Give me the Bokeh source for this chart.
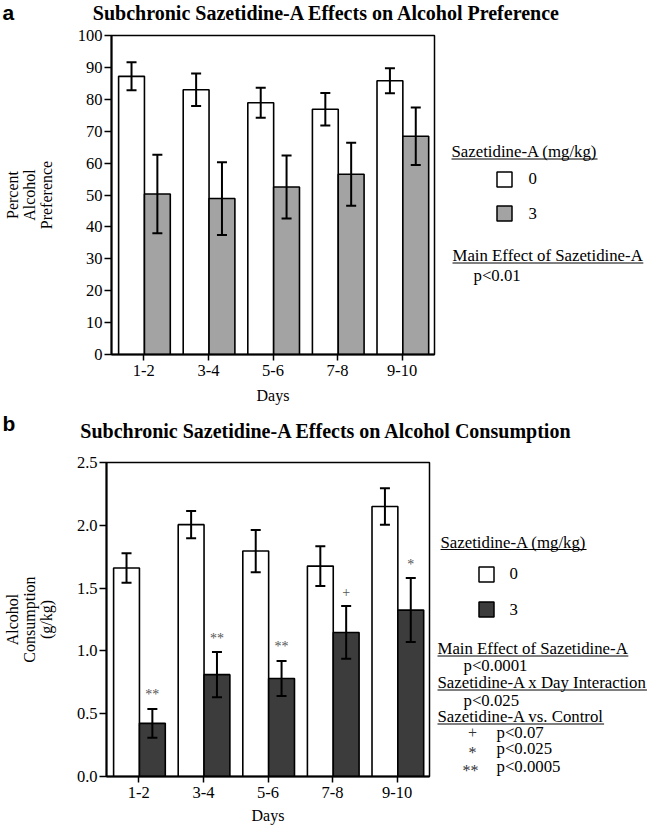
from bokeh.plotting import figure
from bokeh.models import (ColumnDataSource, FactorRange, Range1d, Whisker, TeeHead,
                          SingleIntervalTicker, NumeralTickFormatter)
from bokeh.transform import dodge
from bokeh.layouts import column, row
from bokeh.embed import file_html
from bokeh.resources import INLINE
from bokeh.core.properties import value

# ---------------- data ----------------
days = ["1-2", "3-4", "5-6", "7-8", "9-10"]
dose_labels = ["0", "3"]

pref_ctrl_mean = [87.2, 83.0, 78.9, 76.9, 85.8]
pref_ctrl_sem = [4.4, 5.1, 4.7, 5.1, 3.9]
pref_saz_mean = [50.3, 48.9, 52.5, 56.5, 68.4]
pref_saz_sem = [12.3, 11.4, 9.9, 9.9, 9.0]

cons_ctrl_mean = [1.66, 2.005, 1.795, 1.675, 2.15]
cons_ctrl_sem = [0.117, 0.108, 0.168, 0.159, 0.145]
cons_saz_mean = [0.423, 0.811, 0.78, 1.147, 1.325]
cons_saz_sem = [0.115, 0.18, 0.14, 0.21, 0.255]
cons_saz_sig = ["**", "**", "**", "+", "*"]

title_a = "Subchronic Sazetidine-A Effects on Alcohol Preference"
title_b = "Subchronic Sazetidine-A Effects on Alcohol Consumption"
ylabel_a = "Percent\nAlcohol\nPreference"
ylabel_b = "Alcohol\nConsumption\n(g/kg)"
xlabel = "Days"
legend_title = "Sazetidine-A (mg/kg)"
stats_a = [("Main Effect of Sazetidine-A", "p<0.01")]
stats_b = [("Main Effect of Sazetidine-A", "p<0.0001"),
           ("Sazetidine-A x Day Interaction", "p<0.025")]
vs_title = "Sazetidine-A vs. Control"
vs_marks = ["+", "*", "**"]
vs_p = ["p<0.07", "p<0.025", "p<0.0005"]

SERIF = "Liberation Serif"
WHITE = "#ffffff"
GRAY = "#a3a3a3"
DARK = "#3c3c3c"
OFF0, OFF1, BW = -0.19, 0.21, 0.4
PAGE_W = 649
LFS = "16.8px"   # legend font size
EM = 16.8


def make_panel(width, height, mb_left, mb_right, mb_top, mb_bottom, ymax, interval, fmt,
               ylabel, label_standoff, x_label_standoff,
               c_mean, c_sem, s_mean, s_sem, s_color, sig=None):
    p = figure(x_range=FactorRange(*days), y_range=Range1d(0, ymax),
               width=width, height=height, min_border_left=mb_left, min_border_right=mb_right,
               min_border_top=mb_top, min_border_bottom=mb_bottom,
               toolbar_location=None, output_backend="svg")
    p.grid.visible = False
    p.outline_line_color = "black"
    p.outline_line_width = 1.5

    src = ColumnDataSource(dict(
        day=days,
        c_mean=c_mean, c_up=[m + s for m, s in zip(c_mean, c_sem)], c_lo=[m - s for m, s in zip(c_mean, c_sem)],
        s_mean=s_mean, s_up=[m + s for m, s in zip(s_mean, s_sem)], s_lo=[m - s for m, s in zip(s_mean, s_sem)],
        sig=sig if sig is not None else [""] * len(days),
    ))
    p.vbar(x=dodge("day", OFF0, range=p.x_range), top="c_mean", width=BW, source=src,
           fill_color=WHITE, line_color="black", line_width=1.6)
    p.vbar(x=dodge("day", OFF1, range=p.x_range), top="s_mean", width=BW, source=src,
           fill_color=s_color, line_color="black", line_width=1.6)
    for off, up, lo in ((OFF0, "c_up", "c_lo"), (OFF1, "s_up", "s_lo")):
        w = Whisker(source=src, base=dodge("day", off, range=p.x_range), upper=up, lower=lo,
                    line_color="black", line_width=2, level="annotation",
                    upper_head=TeeHead(size=10, line_width=2, line_color="black"),
                    lower_head=TeeHead(size=10, line_width=2, line_color="black"))
        p.add_layout(w)
    if sig is not None:
        p.text(x=dodge("day", OFF1, range=p.x_range), y="s_up", text="sig", source=src,
               text_align="center", text_baseline="middle", y_offset=-14,
               text_font=value(SERIF), text_font_size="14px", text_color="#555555")

    for ax in (p.xaxis[0], p.yaxis[0]):
        ax.axis_line_width = 2
        ax.major_tick_line_width = 1.5
        ax.major_tick_in = 0
        ax.minor_tick_line_color = None
        ax.major_label_text_font = SERIF
        ax.major_label_text_font_size = "16.5px"
        ax.major_label_text_color = "black"
        ax.axis_label_text_font = SERIF
        ax.axis_label_text_font_size = "16px"
        ax.axis_label_text_font_style = "normal"
        ax.axis_label_text_color = "black"
    p.yaxis.major_tick_out = 7
    p.xaxis.major_tick_out = 6
    p.yaxis.ticker = SingleIntervalTicker(interval=interval, num_minor_ticks=0)
    if fmt:
        p.yaxis.formatter = NumeralTickFormatter(format=fmt)
    p.yaxis.axis_label = ylabel
    p.yaxis.axis_label_text_line_height = 1.0
    p.yaxis.axis_label_standoff = label_standoff
    p.yaxis.major_label_standoff = 2
    p.xaxis.axis_label = xlabel
    p.xaxis.major_label_standoff = 4
    p.xaxis.axis_label_standoff = x_label_standoff
    return p


def pixel_fig(x0, x1, y0, y1, height, mb_top=0, mb_bottom=0):
    """Figure whose data coordinates are page pixels (y downward)."""
    f = figure(width=x1 - x0, height=height, x_range=Range1d(x0, x1), y_range=Range1d(y1, y0),
               x_axis_type=None, y_axis_type=None, toolbar_location=None, output_backend="svg",
               min_border_left=0, min_border_right=0, min_border_top=mb_top,
               min_border_bottom=mb_bottom)
    f.grid.visible = False
    f.outline_line_color = None
    return f


def ltext(f, xs, ys, texts, size=LFS):
    f.text(x=xs, y=ys, text=texts, text_font=value(SERIF), text_font_size=size,
           text_align="left", text_baseline="middle", text_color="black")


def uline(f, x, y, em_width):
    f.segment(x0=[x], y0=[y], x1=[x + em_width * EM], y1=[y], line_color="black", line_width=1)


def header_strip(y0, y1, letter, title, letter_y, title_x, title_y):
    s = pixel_fig(0, PAGE_W, y0, y1, y1 - y0)
    s.text(x=[2], y=[letter_y], text=[letter], text_font=value("Liberation Sans"),
           text_font_style="bold", text_font_size="21px", text_align="left",
           text_baseline="top", text_color="black")
    s.text(x=[title_x], y=[title_y], text=[title], text_font=value(SERIF),
           text_font_style="bold", text_font_size="20px", text_align="center",
           text_baseline="middle", text_color="black")
    return s


# ---------------- panel a (page y 0..410) ----------------
strip_a = header_strip(0, 26, "a", title_a, 0, 326.5, 12)

# frame: x 105..434, y 35..354
pa = make_panel(444, 384, 105, 10, 9, 56, 100, 10, None, ylabel_a, 20, 8,
                pref_ctrl_mean, pref_ctrl_sem, pref_saz_mean, pref_saz_sem, GRAY)

la = pixel_fig(444, PAGE_W, 35, 354, 384, mb_top=9, mb_bottom=56)
ltext(la, [451], [151], [legend_title])
uline(la, 451, 158.5, 8.693)
la.rect(x=[504, 504], y=[179, 213], width=15, height=15, fill_color=[WHITE, GRAY],
        line_color="black", line_width=1.5)
ltext(la, [528, 528], [178, 213], dose_labels)
ltext(la, [452], [255], [stats_a[0][0]])
uline(la, 452, 262.5, 11.358)
ltext(la, [473], [275], [stats_a[0][1]])

# ---------------- panel b (page y 410..830) ----------------
strip_b = header_strip(410, 447, "b", title_b, 411, 326, 430)

# frame: x 104..429, y 462..776
pb = make_panel(433, 383, 104, 4, 15, 54, 2.5, 0.5, "0.0", ylabel_b, 19, 6,
                cons_ctrl_mean, cons_ctrl_sem, cons_saz_mean, cons_saz_sem, DARK,
                sig=cons_saz_sig)

lb = pixel_fig(433, PAGE_W, 462, 776, 383, mb_top=15, mb_bottom=54)
ltext(lb, [440], [541.5], [legend_title])
uline(lb, 440, 549, 8.693)
lb.rect(x=[486, 486], y=[574, 609], width=15, height=15, fill_color=[WHITE, DARK],
        line_color="black", line_width=1.5)
ltext(lb, [509, 509], [573, 609], dose_labels)
ltext(lb, [437, 463, 437, 463], [648, 665, 682, 700],
      [stats_b[0][0], stats_b[0][1], stats_b[1][0], stats_b[1][1]])
uline(lb, 437, 655.5, 11.358)
uline(lb, 437, 689.5, 12.469)
ltext(lb, [437], [716], [vs_title])
uline(lb, 437, 723.5, 9.916)
lb.text(x=[472, 472, 470], y=[732, 752, 770], text=vs_marks, text_font=value(SERIF),
        text_font_size="16px", text_align="center", text_baseline="middle", text_color="#333333")
ltext(lb, [496, 496, 496], [732, 748, 766], vs_p)

layout = column(strip_a, row(pa, la), strip_b, row(pb, lb))
open("out.html", "w").write(file_html(layout, INLINE))
